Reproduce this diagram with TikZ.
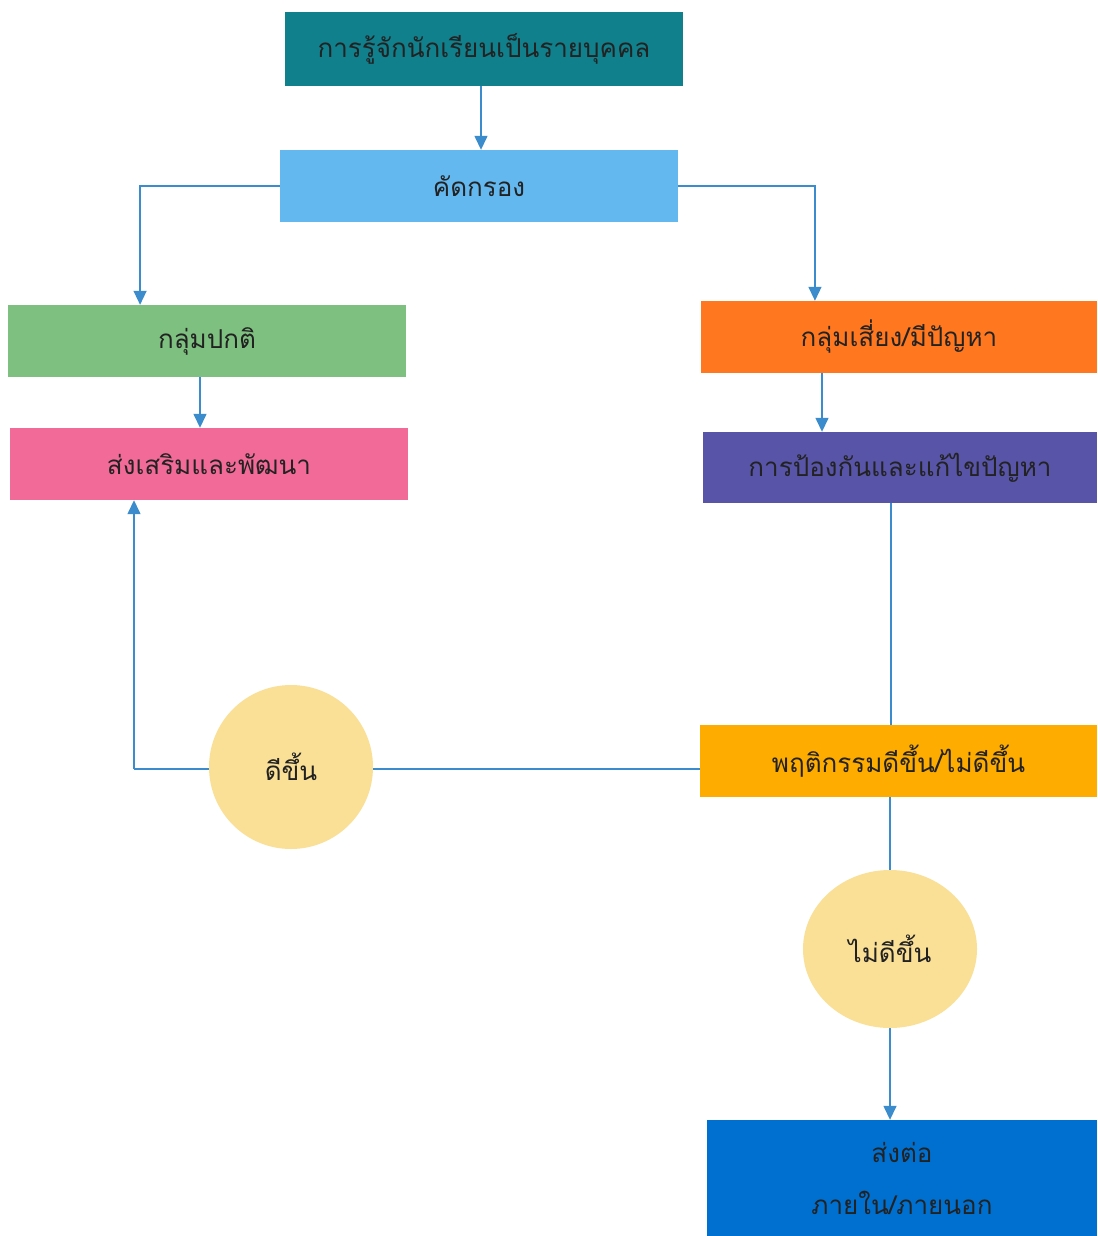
\documentclass[tikz,border=0pt]{standalone}
\usepackage{fontspec}
\newfontfamily\thaifont[Script=Thai]{Loma}
\usetikzlibrary{calc,arrows.meta,shapes.geometric}
\definecolor{cTeal}{RGB}{16,128,140}
\definecolor{cSky}{RGB}{100,184,240}
\definecolor{cGreen}{RGB}{126,192,128}
\definecolor{cPink}{RGB}{242,106,152}
\definecolor{cOrange}{RGB}{255,120,32}
\definecolor{cPurple}{RGB}{88,84,168}
\definecolor{cAmber}{RGB}{255,172,0}
\definecolor{cBlue}{RGB}{0,112,208}
\definecolor{cCircle}{RGB}{250,224,150}
\definecolor{cLine}{RGB}{58,140,205}
\definecolor{cText}{RGB}{34,34,34}
\tikzset{
  box/.style={rectangle, minimum height=72pt, inner sep=0pt, text=cText,
    font=\thaifont\fontsize{26}{34}\selectfont, align=center},
  blob/.style={ellipse, fill=cCircle, inner sep=0pt, text=cText,
    font=\thaifont\fontsize{26}{34}\selectfont},
  link/.style={draw=cLine, line width=1.4pt},
  arr/.style={link, -{Triangle[length=14pt,width=13pt]}}
}
\begin{document}
\begin{tikzpicture}[x=1pt,y=-1pt]
\useasboundingbox (0,0) rectangle (1097,1236);
\fill[white] (0,0) rectangle (1097,1236);
% boxes
\node[box, fill=cTeal, minimum width=398pt, minimum height=74pt] (know) at (484,49) {การรู้จักนักเรียนเป็นรายบุคคล};
\node[box, fill=cSky, minimum width=398pt] (screen) at (479,186) {คัดกรอง};
\node[box, fill=cGreen, minimum width=398pt] (normal) at (207,341) {กลุ่มปกติ};
\node[box, fill=cPink, minimum width=398pt] (promote) at (209,464) {ส่งเสริมและพัฒนา};
\node[box, fill=cOrange, minimum width=396pt] (risk) at (899,337) {กลุ่มเสี่ยง/มีปัญหา};
\node[box, fill=cPurple, minimum width=394pt, minimum height=71pt] (prevent) at (900,467.5) {การป้องกันและแก้ไขปัญหา};
\node[box, fill=cAmber, minimum width=397pt] (behave) at (898.5,761) {พฤติกรรมดีขึ้น/ไม่ดีขึ้น};
\node[box, fill=cBlue, minimum width=390pt, minimum height=116pt, text depth=0pt] (refer) at (902,1178) {ส่งต่อ\\[18pt]ภายใน/ภายนอก};
% connectors
\draw[arr] (know.south -| 481,0) -- (screen.north -| 481,0);
\draw[arr] (screen.west) -| ($(normal.north west)!0.332!(normal.north east)$);
\draw[arr] (screen.east) -| ($(risk.north west)!0.288!(risk.north east)$);
\draw[arr] (normal.south -| 200,0) -- (promote.north -| 200,0);
\draw[arr] (risk.south -| 822,0) -- (prevent.north -| 822,0);
\draw[link] (prevent.south -| 891,0) -- (behave.north -| 891,0);
\coordinate (bl) at (behave.west |- 0,769);
\coordinate (corner) at (134,769);
\draw[link] (bl) -- (corner);
\draw[arr] (corner) -- (promote.south -| corner);
\draw[link] (behave.south -| 890,0) -- (890,1060);
\draw[arr] (890,1060) -- (refer.north -| 890,0);
% circles
\node[blob, minimum width=164pt, minimum height=164pt] (better) at (291,767) {ดีขึ้น};
\node[blob, minimum width=174pt, minimum height=158pt] (worse) at (890,949) {ไม่ดีขึ้น};
\end{tikzpicture}
\end{document}
